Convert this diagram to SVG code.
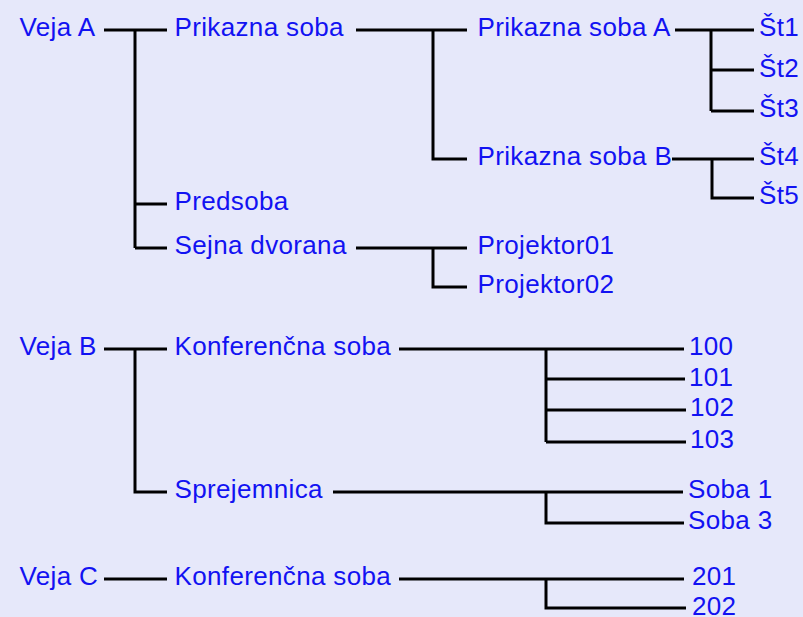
<svg xmlns="http://www.w3.org/2000/svg" width="803" height="617" viewBox="0 0 803 617">
<style>
.t{font-family:"Liberation Sans",Arial,Helvetica,sans-serif;font-size:26px;letter-spacing:0.35px;fill:#1212F2}
.c{stroke:#000;stroke-width:3;fill:none;stroke-linecap:butt}
</style>
<rect width="803" height="617" fill="#E6E8FA"/>
<g id="connectors" class="c">
<path d="M104 30H167M135 30V248M135 204H167M135 248H167"/>
<path d="M356 30H467M433 30V159H467"/>
<path d="M675 30H754M711 30V111M711 70H754M711 111H754"/>
<path d="M672 159H754M712 159V198H754"/>
<path d="M356 248H467M433 248V287H467"/>
<path d="M104 349H167M135 349V492H167"/>
<path d="M399 349H684M546 349V442M546 379H685M546 410H686M546 442H686"/>
<path d="M333 492H683M546 492V523H684"/>
<path d="M104 579H167M399 579H684M546 579V608H686"/>
</g>
<g id="vejaA"><text class="t" x="19.5" y="36">Veja A</text></g>
<g id="prikazna"><text class="t" x="174.5" y="36">Prikazna soba</text></g>
<g id="predsoba"><text class="t" x="174.5" y="210">Predsoba</text></g>
<g id="sejna"><text class="t" x="174.5" y="254">Sejna dvorana</text></g>
<g id="prikaznaA"><text class="t" x="477.5" y="36">Prikazna soba A</text></g>
<g id="prikaznaB"><text class="t" x="477.5" y="165">Prikazna soba B</text></g>
<g id="st1"><text class="t" x="759" y="36">Št1</text></g>
<g id="st2"><text class="t" x="759" y="77">Št2</text></g>
<g id="st3"><text class="t" x="759" y="117">Št3</text></g>
<g id="st4"><text class="t" x="759" y="165">Št4</text></g>
<g id="st5"><text class="t" x="759" y="204">Št5</text></g>
<g id="proj1"><text class="t" x="477.5" y="254">Projektor01</text></g>
<g id="proj2"><text class="t" x="477.5" y="293">Projektor02</text></g>
<g id="vejaB"><text class="t" x="19.5" y="355">Veja B</text></g>
<g id="konfB"><text class="t" x="174.5" y="355">Konferenčna soba</text></g>
<g id="sprejemnica"><text class="t" x="174.5" y="498">Sprejemnica</text></g>
<g id="n100"><text class="t" x="689" y="355">100</text></g>
<g id="n101"><text class="t" x="689" y="386">101</text></g>
<g id="n102"><text class="t" x="690" y="416">102</text></g>
<g id="n103"><text class="t" x="690" y="448">103</text></g>
<g id="soba1"><text class="t" x="688" y="498">Soba 1</text></g>
<g id="soba3"><text class="t" x="688" y="529">Soba 3</text></g>
<g id="vejaC"><text class="t" x="19.5" y="585">Veja C</text></g>
<g id="konfC"><text class="t" x="174.5" y="585">Konferenčna soba</text></g>
<g id="n201"><text class="t" x="692" y="585">201</text></g>
<g id="n202"><text class="t" x="692" y="615">202</text></g>
</svg>
